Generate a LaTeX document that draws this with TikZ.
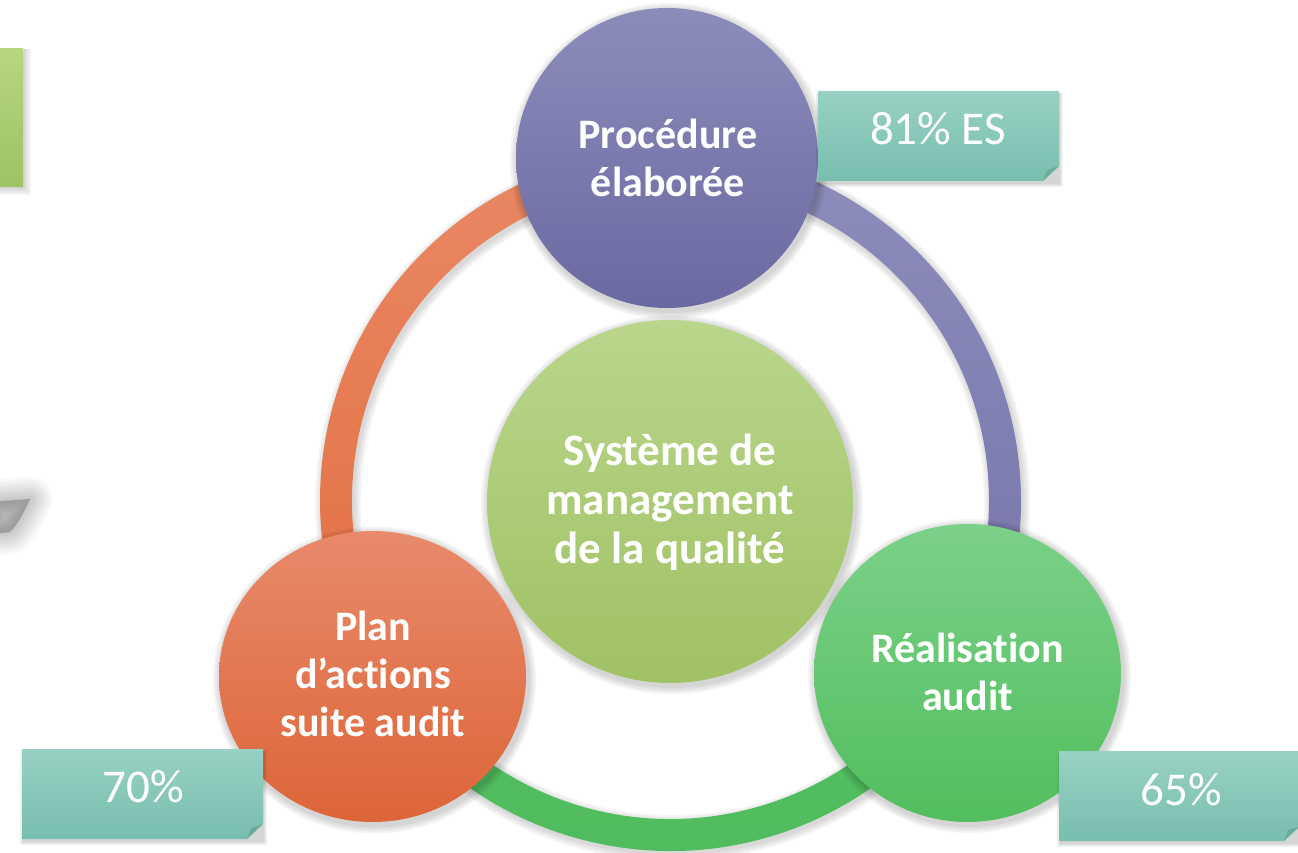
\documentclass[tikz,border=0pt]{standalone}
\usepackage{fontspec}
\setmainfont{Carlito}[Ligatures=NoCommon]
\usetikzlibrary{calc,shapes.geometric}
\definecolor{pTop}{HTML}{8C8CBB}
\definecolor{pBot}{HTML}{6B69A1}
\definecolor{oTop}{HTML}{E88A6B}
\definecolor{oBot}{HTML}{DD6538}
\definecolor{gTop}{HTML}{7BD187}
\definecolor{gBot}{HTML}{52BE5F}
\definecolor{mTop}{HTML}{B9D68B}
\definecolor{mBot}{HTML}{A0C164}
\definecolor{aoTop}{HTML}{E98865}
\definecolor{aoBot}{HTML}{E36E3F}
\definecolor{apTop}{HTML}{8D8DBC}
\definecolor{apBot}{HTML}{7573A9}
\definecolor{agTop}{HTML}{55C063}
\definecolor{agBot}{HTML}{4FBB5D}
\definecolor{bxTop}{HTML}{98D1C4}
\definecolor{bxBot}{HTML}{78BEAE}
\definecolor{bxFold}{HTML}{6AAD9E}
\definecolor{grTop}{HTML}{B6D680}
\definecolor{grBot}{HTML}{9EC264}
\tikzset{
  disc/.style={ellipse, inner sep=0pt, draw=none},
  disctext/.style={text=white, align=center, font=\fontsize{42}{48}\selectfont\bfseries},
  labtext/.style={text=white, anchor=base, font=\fontsize{47}{56}\selectfont},
  shadowlayer/.style={fill=black, opacity=0.045},
}
\begin{document}
\begin{tikzpicture}[x=1pt,y=1pt]
\useasboundingbox (0,0) rectangle (1298,852);
\clip (0,0) rectangle (1298,852);

% faint grey blob at the left
\foreach \w in {44,38,32,27,22,17,12,7,2}
  \filldraw[black, opacity=0.028, line width=\w pt, line join=round]
    (-10,350) -- (30,353) .. controls (24,340) and (18,328) .. (10,320) -- (-10,318) -- cycle;

% green rectangle top-left
\foreach \k in {2,4,6,8}
  \fill[shadowlayer] (-10,{665-\k}) rectangle ({23+\k},803);
\shade[top color=grTop, bottom color=grBot] (-5,665) rectangle (23,803);

% ring
\coordinate (C) at (670.5,351.5);
\foreach \w in {34,38,42,46}
  \draw[black, opacity=0.04, line width=\w pt] ($(C)+(2,-3)$) circle[radius=334.5];
\shade[top color=aoTop, bottom color=aoBot]
  ($(C)+(90:350.5)$) arc[start angle=90, end angle=212, radius=350.5]
  -- ($(C)+(212:318.5)$) arc[start angle=212, end angle=90, radius=318.5] -- cycle;
\shade[top color=apTop, bottom color=apBot]
  ($(C)+(-32:350.5)$) arc[start angle=-32, end angle=90, radius=350.5]
  -- ($(C)+(90:318.5)$) arc[start angle=90, end angle=-32, radius=318.5] -- cycle;
\shade[top color=agTop, bottom color=agBot]
  ($(C)+(208:350.5)$) arc[start angle=208, end angle=332, radius=350.5]
  -- ($(C)+(332:318.5)$) arc[start angle=332, end angle=208, radius=318.5] -- cycle;

% centre disc
\foreach \k in {8,6,4,2}
  \fill[shadowlayer] (672,347.5) ellipse[x radius=183+\k, y radius=181.5+\k];
\node[disc, minimum width=366, minimum height=363, top color=mTop, bottom color=mBot] (M) at (670,350.5) {};
\node[disctext, font=\fontsize{45}{49}\selectfont\bfseries] (Mt) at (670,350) {Système de\\management\\de la qualité};

% top disc
\foreach \k in {8,6,4,2}
  \fill[shadowlayer] (669,691) ellipse[x radius=151+\k, y radius=150+\k];
\node[disc, minimum width=302, minimum height=300, top color=pTop, bottom color=pBot] (T) at (667,694) {};
\node[disctext] (Tt) at (668,694) {Procédure\\élaborée};

% bottom-left disc
\foreach \k in {8,6,4,2}
  \fill[shadowlayer] (374.5,172) ellipse[x radius=153.5+\k, y radius=145.5+\k];
\node[disc, minimum width=307, minimum height=291, top color=oTop, bottom color=oBot] (L) at (372.5,175.5) {};
\node[disctext] (Lt) at (373,178) {Plan\\d’actions\\suite audit};

% bottom-right disc
\foreach \k in {8,6,4,2}
  \fill[shadowlayer] (969.5,176) ellipse[x radius=153.5+\k, y radius=149+\k];
\node[disc, minimum width=307, minimum height=298, top color=gTop, bottom color=gBot] (R) at (967.5,179) {};
\node[disctext] (Rt) at (967.5,180) {Réalisation\\audit};

% label boxes
\foreach \bx/\by in {818/671, 22/13, 1059/11}{
  \foreach \k in {2,4,6,8}
    \fill[shadowlayer] ({\bx+2-\k/2},{\by-2-\k/2}) rectangle ({\bx+241+\k/2},{\by+88});
  \shade[top color=bxTop, bottom color=bxBot]
    (\bx,\by) -- ({\bx+225},\by) -- ({\bx+241},{\by+15}) -- ({\bx+241},{\by+90}) -- (\bx,{\by+90}) -- cycle;
  \fill[bxFold] ({\bx+225},\by) -- ({\bx+241},{\by+15}) -- ({\bx+229},{\by+11}) -- cycle;
}
\node[labtext] (B1) at (938,707) {81\% ES};
\node[labtext] (B2) at (143,50) {70\%};
\node[labtext] (B3) at (1181,47) {65\%};
\end{tikzpicture}
\end{document}
